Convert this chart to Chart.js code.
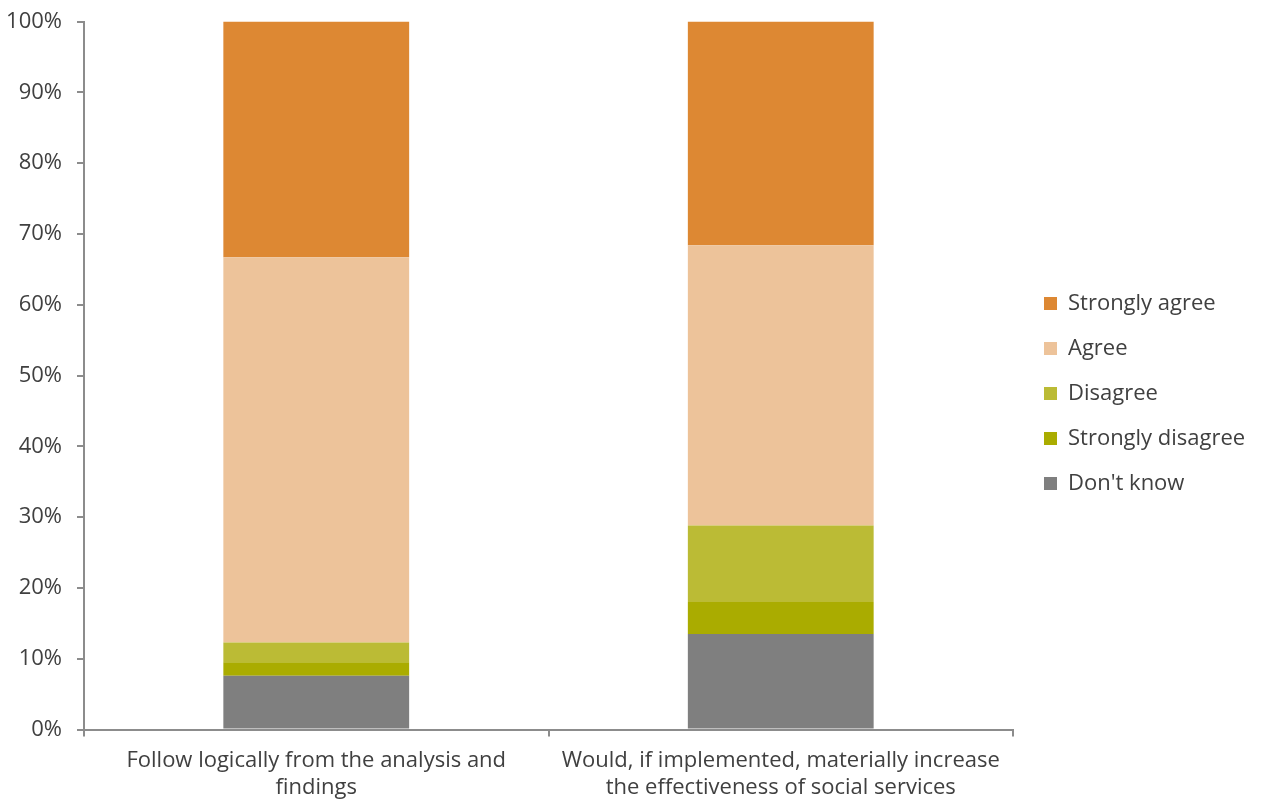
<!DOCTYPE html>
<html>
<head>
<meta charset="utf-8">
<script src="https://cdn.jsdelivr.net/npm/chart.js@4"></script>
<style>
  html, body { margin: 0; padding: 0; background: #fff; }
  #wrap { width: 1264px; height: 801px; }
</style>
</head>
<body>
<div id="wrap"><canvas id="chart"></canvas></div>
<script>
const categories = [
    ['Follow logically from the analysis and', 'findings'],
    ['Would, if implemented, materially increase', 'the effectiveness of social services']
];

// percentages
const dontKnow = [7.6, 13.5];
const stronglyDisagree = [1.9, 4.5];
const disagree = [2.8, 10.8];
const agree = [54.4, 39.6];
const stronglyAgree = [33.3, 31.6];

const yTicks = [0, 10, 20, 30, 40, 50, 60, 70, 80, 90, 100];

const textColor = '#404040';
const axisColor = '#8c8c8c';
const fontFamily = '"Open Sans", sans-serif';
const fontSize = 22;
const font = { family: fontFamily, size: fontSize };

// where the plot area should sit
const plotLeft = 84;
const plotTop = 21.5;
const plotRight = 1013;
const plotBottom = 729.5;

const data = {
    labels: categories,
    datasets: [
        { label: "Don't know", data: dontKnow, backgroundColor: '#7f7f7f' },
        { label: 'Strongly disagree', data: stronglyDisagree, backgroundColor: '#aaac00' },
        { label: 'Disagree', data: disagree, backgroundColor: '#bbbb35' },
        { label: 'Agree', data: agree, backgroundColor: '#edc39a' },
        { label: 'Strongly agree', data: stronglyAgree, backgroundColor: '#dd8833' }
    ]
};
data.datasets.forEach(ds => {
    ds.barPercentage = 0.4;
    ds.categoryPercentage = 1.0;
    ds.borderWidth = 0;
});

// place the legend block a bit right of the plot, centred like the reference
const legendNudge = {
    id: 'legendNudge',
    afterLayout(chart) {
        const lg = chart.legend;
        lg.left += 8; lg.right += 8;
        lg.top = -8; lg.bottom = 795;
    }
};

const ctx = document.getElementById('chart').getContext('2d');
const chart = new Chart(ctx, {
    type: 'bar',
    data: data,
    plugins: [legendNudge],
    options: {
        responsive: true,
        maintainAspectRatio: false,
        animation: false,
        layout: {
            padding: { top: 20, left: 0, right: 10, bottom: 0 }
        },
        plugins: {
            legend: {
                position: 'right',
                reverse: true,
                labels: {
                    color: textColor,
                    font: font,
                    boxWidth: 13,
                    boxHeight: 13,
                    padding: 23
                }
            },
            tooltip: { enabled: false }
        },
        scales: {
            x: {
                stacked: true,
                afterFit: axis => { axis.height = 801 - plotBottom; },
                grid: {
                    display: true,
                    drawOnChartArea: false,
                    drawTicks: true,
                    tickLength: 7,
                    color: axisColor,
                    lineWidth: 2
                },
                border: { color: axisColor, width: 2 },
                ticks: {
                    color: textColor,
                    font: { family: fontFamily, size: fontSize, lineHeight: 1.23 },
                    maxRotation: 0,
                    padding: 11
                }
            },
            y: {
                stacked: true,
                min: 0,
                max: 100,
                afterFit: axis => {
                    axis.width = plotLeft;
                    axis.paddingTop = 0;
                    axis.paddingBottom = 0;
                },
                grid: {
                    drawOnChartArea: false,
                    drawTicks: true,
                    tickLength: 7,
                    color: axisColor,
                    lineWidth: 2
                },
                border: { color: axisColor, width: 2 },
                afterBuildTicks: axis => {
                    axis.ticks = yTicks.map(v => ({ value: v }));
                },
                ticks: {
                    color: textColor,
                    font: font,
                    padding: 15,
                    callback: v => v + '%'
                }
            }
        }
    }
});

// correct the padding once so the plot area lands where the reference has it
const pad = chart.options.layout.padding;
pad.right += chart.chartArea.right - plotRight;
pad.top += plotTop - chart.chartArea.top;
chart.update();
</script>
</body>
</html>
